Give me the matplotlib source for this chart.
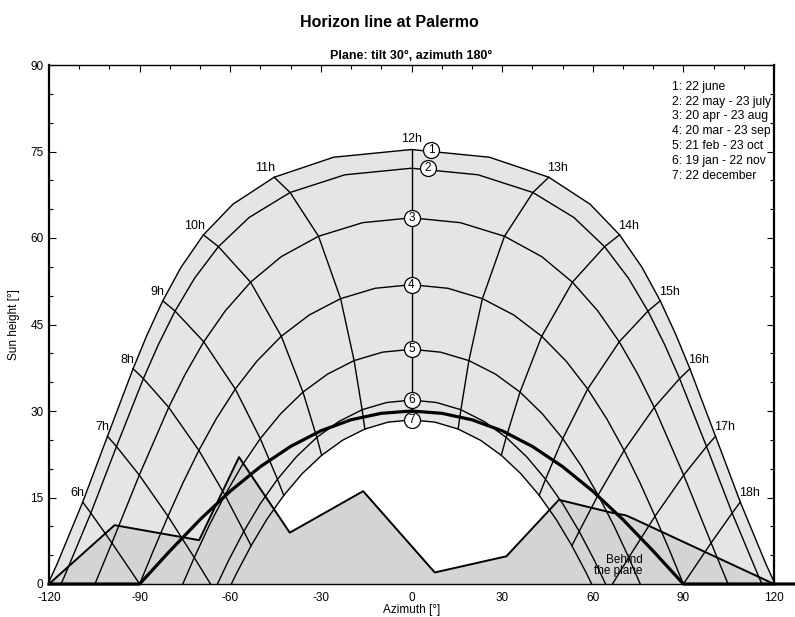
import matplotlib
matplotlib.use('Agg')
import matplotlib.pyplot as plt
from matplotlib.ticker import MultipleLocator

plt.rcParams['font.family'] = ['Liberation Sans', 'DejaVu Sans']
plt.rcParams['axes.unicode_minus'] = False

# Sun paths, morning half (solar time, azimuth [deg], height [deg])
t1 = [12, 11.5, 11, 10.5, 10, 9.5, 9, 8.5, 8, 7, 6, 5, 4.68]
az1 = [0, -25.76, -45.45, -59.12, -68.88, -76.31, -82.34, -87.51, -92.16, -100.64, -108.84, -117.41, -120.37]
h1 = [75.34, 74.01, 70.54, 65.86, 60.55, 54.91, 49.11, 43.24, 37.33, 25.62, 14.21, 3.36, 0]

t2 = [12, 11.5, 11, 10.5, 10, 9.5, 9, 8.5, 8, 7, 6, 5, 4.88]
az2 = [0, -22.05, -40.19, -53.75, -63.91, -71.81, -78.27, -83.81, -88.75, -97.66, -106.15, -114.94, -116.03]
h2 = [72.10, 70.96, 67.89, 63.56, 58.50, 53.03, 47.33, 41.50, 35.62, 23.84, 12.30, 1.26, 0]

t3 = [12, 11.5, 11, 10.5, 10, 9.5, 9, 8.5, 8, 7, 6, 5.38]
az3 = [0, -16.17, -30.78, -43.13, -53.27, -61.66, -68.77, -74.90, -80.37, -90.11, -99.18, -104.80]
h3 = [63.50, 62.66, 60.30, 56.76, 52.34, 47.36, 42.00, 36.39, 30.63, 18.88, 7.13, 0]

t4 = [12, 11.5, 11, 10.5, 10, 9.5, 9, 8.5, 8, 7.5, 7, 6.5, 6]
az4 = [0, -12.04, -23.47, -33.88, -43.10, -51.21, -58.33, -64.66, -70.39, -75.66, -80.61, -85.36, -90.0]
h4 = [51.90, 51.28, 49.48, 46.64, 42.96, 38.63, 33.81, 28.62, 23.17, 17.53, 11.75, 5.90, 0]

t5 = [12, 11.5, 11, 10.5, 10, 9.5, 9, 8.5, 8, 7.5, 7, 6.6]
az5 = [0, -9.65, -19.00, -27.79, -35.93, -43.33, -50.06, -56.18, -61.77, -67.01, -71.91, -75.71]
h5 = [40.70, 40.20, 38.74, 36.40, 33.28, 29.51, 25.21, 20.49, 15.43, 10.11, 4.59, 0]

t6 = [12, 11.5, 11, 10.5, 10, 9.5, 9, 8.5, 8, 7.5, 7.11]
az6 = [0, -8.27, -16.35, -24.08, -31.34, -38.12, -44.37, -50.16, -55.51, -60.51, -64.24]
h6 = [31.90, 31.47, 30.22, 28.17, 25.43, 22.06, 18.17, 13.84, 9.13, 4.13, 0]

t7 = [12, 11.5, 11, 10.5, 10, 9.5, 9, 8.5, 8, 7.5, 7.33]
az7 = [0, -7.80, -15.44, -22.78, -29.73, -36.23, -42.28, -47.91, -53.10, -58.00, -59.63]
h7 = [28.46, 28.06, 26.87, 24.94, 22.32, 19.11, 15.37, 11.19, 6.64, 1.77, 0]

# hour lines that end on the horizon between two dates
edge_hours = [7]
edge_az = [-66.53]
edge_h = [0]

hour_ticks = [6, 7, 8, 9, 10, 11]

date_labels = ['1: 22 june', '2: 22 may - 23 july', '3: 20 apr - 23 aug',
               '4: 20 mar - 23 sep', '5: 21 feb - 23 oct', '6: 19 jan - 22 nov',
               '7: 22 december']
marker_az = [6.6, 5.4, 0, 0, 0, 0, 0]

# Horizon profile
hor_az = [-120, -98.3, -70.3, -57.1, -40.3, -16.0, 7.7, 31.4, 48.8, 66.0, 71.0, 74.0, 120]
hor_h = [0, 10.2, 7.6, 22.0, 8.9, 16.1, 2.0, 4.8, 14.6, 12.4, 11.9, 11.2, 0]

# Limit "behind the plane"
plane_az = [-120, -90, -80, -70, -60, -50, -40, -30, -20, -10, 0, 10, 20, 30, 40, 50, 60, 70, 80, 90, 127]
plane_h = [0, 0, 5.72, 11.17, 16.10, 20.36, 23.86, 26.57, 28.48, 29.60, 30.0,
           29.60, 28.48, 26.57, 23.86, 20.36, 16.10, 11.17, 5.72, 0, 0]

paths = [(t1, az1, h1), (t2, az2, h2), (t3, az3, h3), (t4, az4, h4),
         (t5, az5, h5), (t6, az6, h6), (t7, az7, h7)]


def full_path(az, h):
    # morning half reversed + mirrored afternoon half
    xs = az[::-1] + [-a for a in az[1:]]
    ys = h[::-1] + h[1:]
    return xs, ys


fig = plt.figure(figsize=(7.95, 6.17), dpi=100)
ax = fig.add_axes([49 / 795, 33 / 617, 725 / 795, 519 / 617])

# zone reached by the sun
x1, y1 = full_path(az1, h1)
x7, y7 = full_path(az7, h7)
ax.fill(x1 + x7[::-1], y1 + y7[::-1], color='#e5e5e5', lw=0, zorder=1)

# horizon
ax.fill_between(hor_az, hor_h, 0, color='#d4d4d4', lw=0, zorder=2)

# sun paths
for t, az, h in paths:
    xs, ys = full_path(az, h)
    ax.plot(xs, ys, color='black', lw=1.0, zorder=3)

# hour lines
for k in hour_ticks:
    xs, ys = [], []
    for t, az, h in paths:
        if k in t:
            i = t.index(k)
            xs.append(az[i])
            ys.append(h[i])
    if k in edge_hours:
        j = edge_hours.index(k)
        xs.append(edge_az[j])
        ys.append(edge_h[j])
    ax.plot(xs, ys, color='black', lw=1.0, zorder=3)
    ax.plot([-x for x in xs], ys, color='black', lw=1.0, zorder=3)
    i = t1.index(k)
    ax.annotate('%dh' % k, (az1[i], h1[i]), xytext=(1, 2), textcoords='offset points',
                ha='right', va='bottom', fontsize=9)
    ax.annotate('%dh' % (24 - k), (-az1[i], h1[i]), xytext=(-1, 2), textcoords='offset points',
                ha='left', va='bottom', fontsize=9)

noon_h = [p[2][0] for p in paths]
ax.plot([0] * len(noon_h), noon_h, color='black', lw=1.0, zorder=3)
ax.annotate('12h', (0, noon_h[0]), xytext=(0, 3), textcoords='offset points',
            ha='center', va='bottom', fontsize=9)

# horizon line and plane limit
ax.plot(hor_az, hor_h, color='black', lw=1.4, zorder=4)
ax.plot(plane_az, plane_h, color='black', lw=2.3, zorder=5, clip_on=False)

# date markers
for n in range(len(noon_h)):
    ax.plot(marker_az[n], noon_h[n], 'o', ms=11.5, mfc='white', mec='black', mew=0.9, zorder=6)
    ax.text(marker_az[n], noon_h[n], str(n + 1), ha='center', va='center', fontsize=8.5, zorder=7)

ax.text(76.5, 3.2, 'Behind\nthe plane', ha='right', va='center', multialignment='right',
        fontsize=8.5, linespacing=0.9, zorder=6)

for n, lab in enumerate(date_labels):
    ax.text(0.859, 0.958 - n * 0.0285, lab, transform=ax.transAxes, ha='left', va='center', fontsize=8.7)

ax.set_xlim(-120, 120)
ax.set_ylim(0, 90)
ax.xaxis.set_major_locator(MultipleLocator(30))
ax.xaxis.set_minor_locator(MultipleLocator(10))
ax.yaxis.set_major_locator(MultipleLocator(15))
ax.yaxis.set_minor_locator(MultipleLocator(5))
ax.tick_params(which='both', direction='in', top=True, right=True, labelsize=8.5)
ax.tick_params(axis='x', pad=6)
ax.tick_params(axis='y', pad=4)
ax.tick_params(which='major', length=5, width=0.8)
ax.tick_params(which='minor', length=3, width=0.8)
for side in ['left', 'right']:
    ax.spines[side].set_linewidth(1.6)
for side in ['top', 'bottom']:
    ax.spines[side].set_linewidth(1.0)

ax.set_xlabel('Azimuth [°]', fontsize=8.5, labelpad=0)
ax.set_ylabel('Sun height [°]', fontsize=8.5, labelpad=7)
ax.set_title('Plane: tilt 30°, azimuth 180°', fontsize=9, fontweight='bold', pad=4)
fig.text(0.49, 0.964, 'Horizon line at Palermo', ha='center', va='center',
         fontsize=11.5, fontweight='bold')

fig.savefig('out.png', dpi=100)
